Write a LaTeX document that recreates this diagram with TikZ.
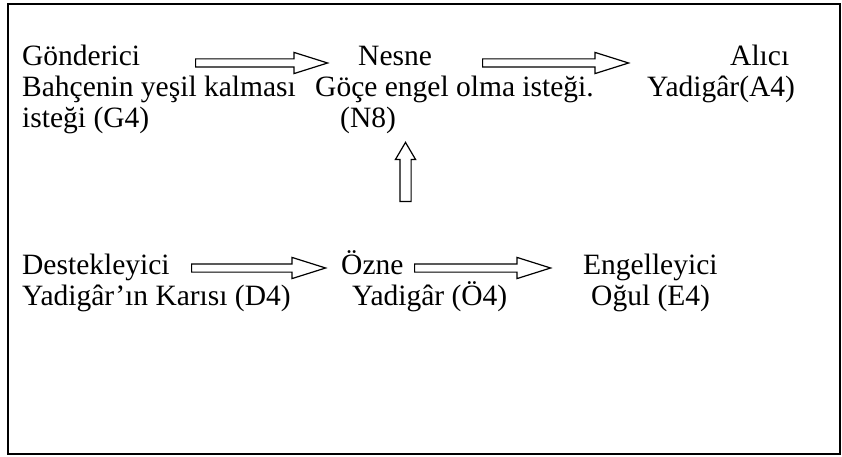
\documentclass[tikz,border=0pt]{standalone}
\usepackage{fontspec}
\setmainfont{Liberation Serif}
\usetikzlibrary{shapes.arrows,positioning}

\begin{document}
\begin{tikzpicture}[x=1pt, y=-1pt,
		every node/.style={inner sep=0pt},
		txt/.style={font=\fontsize{29.5}{31}\selectfont, align=left, anchor=base west},
		hollow/.style={single arrow, draw, line width=1.2pt, inner xsep=0pt, inner ysep=3.5pt,
			single arrow head extend=6.5pt, single arrow tip angle=35, anchor=tail}]
		\useasboundingbox (0,0) rectangle (842,457);
		\draw[line width=2pt] (8,4) rectangle (840,454);
		% upper row (nodes sit on the baseline of their last line)
		\node(gon) [txt] at (22,128)  {G\"onderici\\Bah\c{c}enin ye\c{s}il kalmas\i\\iste\u{g}i (G4)};
		\node(nes) [txt] at (315,128) {\hspace*{43pt}Nesne\\G\"o\c{c}e engel olma iste\u{g}i.\\\hspace*{25pt}(N8)};
		\node(alc) [txt] at (647,97)  {\hspace*{83pt}Al\i c\i\\Yadig\^ar(A4)};
		\node(ga)  [hollow, minimum height=132pt] at (195,63) {};
		\node(na)  [hollow, minimum height=146pt] at (482,63) {};
		% lower row
		\node(des) [txt] at (22,305)  {Destekleyici\\Yadig\^ar'\i n Kar\i s\i\ (D4)};
		\node(ozn) [txt] at (341,305) {\"Ozne\\\hspace*{11pt}Yadig\^ar (\"O4)};
		\node(eng) [txt] at (583,305) {Engelleyici\\\hspace*{8pt}O\u{g}ul (E4)};
		\node(da)  [hollow, minimum height=134pt] at (191,268) {};
		\node(oa)  [hollow, minimum height=136pt] at (414,268) {};
		% subject towards object
		\node(up)  [hollow, rotate=90, minimum height=59pt, inner ysep=5pt,
			single arrow head extend=4.5pt, single arrow tip angle=61] at (405.5,202) {};
	\end{tikzpicture}
\end{document}
